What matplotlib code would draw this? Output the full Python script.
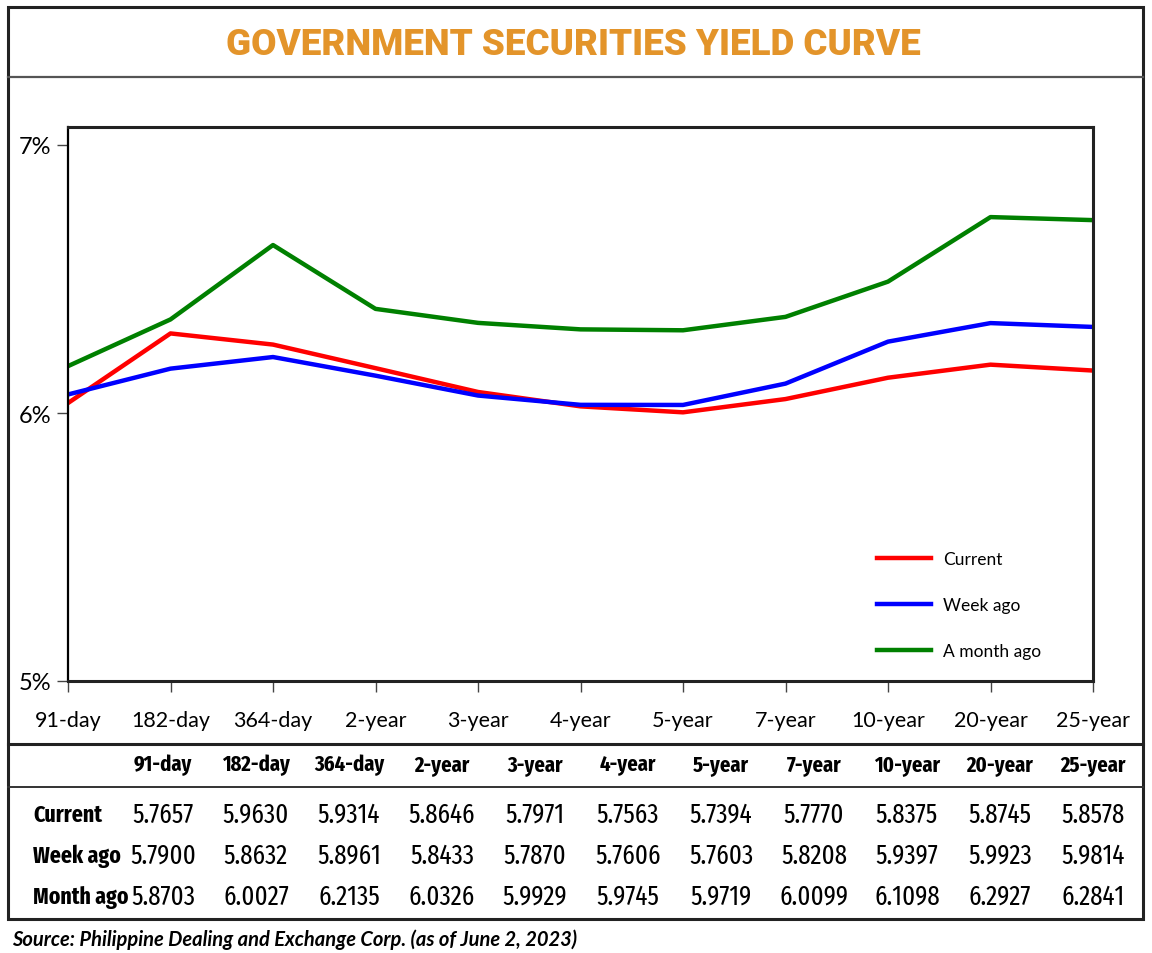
import matplotlib
matplotlib.use('Agg')
import matplotlib.pyplot as plt
from matplotlib.lines import Line2D

# Tenors (x categories)
tenors = ['91-day', '182-day', '364-day', '2-year', '3-year', '4-year',
          '5-year', '7-year', '10-year', '20-year', '25-year']

# Yields from the table
current = [5.7657, 5.9630, 5.9314, 5.8646, 5.7971, 5.7563, 5.7394, 5.7770, 5.8375, 5.8745, 5.8578]
week_ago = [5.7900, 5.8632, 5.8961, 5.8433, 5.7870, 5.7606, 5.7603, 5.8208, 5.9397, 5.9923, 5.9814]
month_ago = [5.8703, 6.0027, 6.2135, 6.0326, 5.9929, 5.9745, 5.9719, 6.0099, 6.1098, 6.2927, 6.2841]

row_names = ['Current', 'Week ago', 'Month ago']
legend_names = ['Current', 'Week ago', 'A month ago']

# y-axis labels as printed on the chart, and where they sit on the data scale
ytick_labels = ['5%', '6%', '7%']
ytick_pos = [4.978, 5.737, 6.497]

W, H = 1152, 954
fig = plt.figure(figsize=(W / 100, H / 100), dpi=100)

body = ['Lato', 'DejaVu Sans']
cond = ['Fira Sans Extra Condensed', 'Roboto Condensed', 'DejaVu Sans']
head = ['Roboto', 'DejaVu Sans']

def fx(px):
    return px / W

def fy(py):
    return 1 - py / H

# outer frame and separators
fig.add_artist(plt.Rectangle((fx(8), fy(920)), fx(1143) - fx(8), fy(8) - fy(920),
                             transform=fig.transFigure, fill=False, lw=2.2, ec='#222222'))
fig.add_artist(Line2D([fx(8), fx(1143)], [fy(78), fy(78)], transform=fig.transFigure, lw=1.6, color='#555555'))
fig.add_artist(Line2D([fx(8), fx(1143)], [fy(745), fy(745)], transform=fig.transFigure, lw=2.2, color='#222222'))
fig.add_artist(Line2D([fx(8), fx(1143)], [fy(788), fy(788)], transform=fig.transFigure, lw=1.4, color='#333333'))

fig.text(fx(573), fy(45), 'GOVERNMENT SECURITIES YIELD CURVE', ha='center', va='center',
         fontsize=26.5, fontweight='heavy', color='#E3942A', family=head)

# chart
ax = fig.add_axes([fx(68), fy(682), fx(1093) - fx(68), fy(128) - fy(682)])
x = list(range(len(tenors)))
ax.plot(x, current, color='#FF0000', lw=3.2, label=legend_names[0])
ax.plot(x, week_ago, color='#0000FF', lw=3.2, label=legend_names[1])
ax.plot(x, month_ago, color='#008000', lw=3.2, label=legend_names[2])
ax.set_xlim(0, len(tenors) - 1)
ax.set_ylim(4.978, 6.548)
ax.set_xticks(x)
ax.set_xticklabels(tenors, family=body, fontsize=15.5)
ax.set_yticks(ytick_pos)
ax.set_yticklabels(ytick_labels, family=body, fontsize=17)
ax.tick_params(axis='x', direction='out', length=8, width=1, pad=13, colors='#444444', labelcolor='black')
ax.tick_params(axis='y', direction='out', length=8, width=1, pad=4, colors='#444444', labelcolor='black')
ax.spines['left'].set_linewidth(1.6)
for s in ['top', 'right', 'bottom']:
    ax.spines[s].set_linewidth(2.2)
    ax.spines[s].set_color('#222222')

leg = ax.legend(loc='upper left', bbox_to_anchor=(fx(877), fy(552)), bbox_transform=fig.transFigure,
                frameon=False, borderpad=0, borderaxespad=0, handlelength=3.1, handletextpad=0.7,
                labelspacing=1.73, prop={'family': body, 'size': 12.5})

# table
col_x = [163 + 93 * i for i in range(len(tenors))]
for cx, t in zip(col_x, tenors):
    fig.text(fx(cx), fy(765), t, ha='center', va='center', fontsize=16, fontweight='bold', family=cond)

rows = [current, week_ago, month_ago]
row_y = [815, 856, 897]
for name, vals, ry in zip(row_names, rows, row_y):
    fig.text(fx(33), fy(ry), name, ha='left', va='center', fontsize=17, fontweight='bold', family=cond)
    for cx, v in zip(col_x, vals):
        fig.text(fx(cx), fy(ry), '%.4f' % v, ha='center', va='center', fontsize=19.5, family=cond)

fig.text(fx(12), fy(940), 'Source: Philippine Dealing and Exchange Corp. (as of June 2, 2023)',
         ha='left', va='center', fontsize=14.5, fontweight='bold', style='italic', family=body)

fig.savefig('out.png', dpi=100)
